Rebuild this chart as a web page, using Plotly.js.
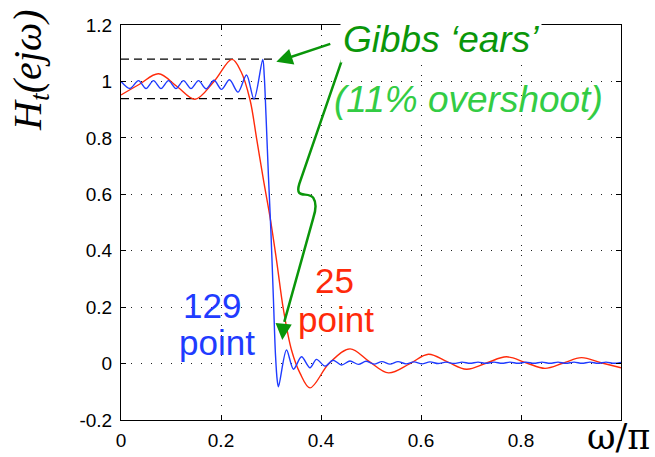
<!DOCTYPE html>
<html>
<head>
<meta charset="utf-8">
<script src="https://cdn.plot.ly/plotly-3.0.1.min.js"></script>
<style>html,body{margin:0;padding:0;background:#fff;}#chart{width:655px;height:457px;}</style>
</head>
<body>
<div id="chart"></div>
<script>
// 25-point truncated response
const redX = [0, 0.037, 0.075, 0.112, 0.148, 0.186, 0.222, 0.24, 0.258, 0.271, 0.285, 0.298, 0.311, 0.325, 0.341, 0.358, 0.378, 0.416, 0.458, 0.496, 0.535, 0.578, 0.615, 0.653, 0.691, 0.731, 0.771, 0.81, 0.848, 0.885, 0.921, 0.96, 1.0];
const redY = [0.952, 0.99, 1.027, 0.982, 0.937, 1.0, 1.078, 1.035, 0.935, 0.8, 0.65, 0.52, 0.367, 0.19, 0.048, -0.034, -0.086, 0.0, 0.052, 0.008, -0.033, 0.0, 0.033, 0.006, -0.02, 0.002, 0.024, 0.003, -0.017, 0.002, 0.021, 0.003, -0.015];

// 129-point truncated response
const blueX = [0, 0.018, 0.035, 0.05, 0.065, 0.08, 0.095, 0.11, 0.125, 0.14, 0.155, 0.17, 0.186, 0.201, 0.217, 0.234, 0.251, 0.266, 0.2835, 0.2865, 0.29, 0.295, 0.3, 0.305, 0.309, 0.3125, 0.315, 0.331, 0.345, 0.361, 0.378, 0.391, 0.408, 0.424, 0.441, 0.458, 0.475, 0.49, 0.506, 0.522, 0.538, 0.554, 0.57, 0.586, 0.602, 0.618, 0.634, 0.65, 0.666, 0.682, 0.698, 0.714, 0.73, 0.746, 0.762, 0.778, 0.794, 0.81, 0.826, 0.842, 0.858, 0.874, 0.89, 0.906, 0.922, 0.938, 0.954, 0.97, 0.986, 1.0];
const blueY = [1.0, 0.975, 1.003, 0.975, 1.003, 0.975, 1.003, 0.975, 1.003, 0.975, 1.003, 0.974, 1.004, 0.972, 1.006, 0.962, 1.023, 0.937, 1.078, 1.02, 0.88, 0.66, 0.46, 0.22, 0.03, -0.06, -0.082, 0.048, -0.02, 0.024, -0.015, 0.015, -0.009, 0.012, -0.005, 0.009, -0.003, 0.008, -0.002, 0.007, -0.002, 0.007, -0.001, 0.006, -0.001, 0.006, 0.0, 0.005, 0.0, 0.005, 0.001, 0.005, 0.001, 0.005, 0.001, 0.005, 0.001, 0.005, 0.001, 0.005, 0.001, 0.005, 0.001, 0.005, 0.001, 0.005, 0.001, 0.005, 0.001, 0.004];

// Overshoot reference levels
const overshootX = [0, 0.304];
const overshootHigh = [1.079, 1.079];
const overshootLow = [0.939, 0.939];

// Tick labels
const xTickVals = [0, 0.2, 0.4, 0.6, 0.8, 1.0];
const xTickText = ['0', '0.2', '0.4', '0.6', '0.8', ''];
const yTickVals = [-0.2, 0, 0.2, 0.4, 0.6, 0.8, 1.0, 1.2];
const yTickText = ['-0.2', '0', '0.2', '0.4', '0.6', '0.8', '1', '1.2'];

const RED = '#ff2a0a';
const BLUE = '#1f3cff';
const GREEN = '#0a960a';
const LIGHTGREEN = '#33cc44';

const traces = [
  {x: overshootX, y: overshootHigh, mode: 'lines', line: {color: '#000', width: 1.3, dash: '8px,5px'}, hoverinfo: 'skip'},
  {x: overshootX, y: overshootLow, mode: 'lines', line: {color: '#000', width: 1.3, dash: '8px,5px'}, hoverinfo: 'skip'},
  {x: redX, y: redY, mode: 'lines', line: {color: RED, width: 1.4, shape: 'spline', smoothing: 1}},
  {x: blueX, y: blueY, mode: 'lines', line: {color: BLUE, width: 1.4, shape: 'spline', smoothing: 0.9}}
];

const axisCommon = {
  showline: true, linecolor: '#000', linewidth: 1, mirror: 'ticks',
  ticks: 'inside', ticklen: 5, tickcolor: '#000', tickwidth: 1,
  showgrid: true, gridcolor: '#222', gridwidth: 1, griddash: '1px,9px',
  zeroline: false,
  tickfont: {family: 'Liberation Sans, Arial, sans-serif', size: 19, color: '#000'}
};

const layout = {
  width: 655, height: 457,
  margin: {l: 121, r: 34, t: 25, b: 37},
  paper_bgcolor: '#fff', plot_bgcolor: '#fff',
  showlegend: false,
  xaxis: Object.assign({}, axisCommon, {range: [0, 1], tickmode: 'array', tickvals: xTickVals, ticktext: xTickText, ticklabelstandoff: 3}),
  yaxis: Object.assign({}, axisCommon, {range: [-0.2, 1.2], tickmode: 'array', tickvals: yTickVals, ticktext: yTickText, ticklabelstandoff: 4}),
  shapes: [
    {type: 'path', xref: 'x', yref: 'y',
     path: 'M 0.442,1.0766 L 0.3566,0.6369 C 0.3466,0.5794 0.3746,0.6121 0.3846,0.5872 C 0.3926,0.566 0.3886,0.5376 0.3846,0.5163 L 0.3266,0.1475',
     line: {color: GREEN, width: 2.5}}
  ],
  annotations: [
    {xref: 'x', yref: 'y', x: 0.3226, y: 0.0837, ax: 2, ay: -24, text: ' ', showarrow: true,
     arrowhead: 2, arrowsize: 1.3, arrowwidth: 2.5, arrowcolor: GREEN, standoff: 0},
    {xref: 'x', yref: 'y', x: 0.3106, y: 1.0695, ax: 57, ay: -19, text: ' ', showarrow: true,
     arrowhead: 2, arrowsize: 1.3, arrowwidth: 2.5, arrowcolor: GREEN, standoff: 0},
    {xref: 'x', yref: 'y', x: 0.639, y: 1.1475, text: 'Gibbs ‘ears’', showarrow: false,
     xanchor: 'center', yanchor: 'middle', bgcolor: '#fff', borderpad: 2,
     font: {family: 'Liberation Sans, Arial, sans-serif', size: 37, color: GREEN, style: 'italic'}},
    {xref: 'x', yref: 'y', x: 0.695, y: 0.935, text: '(11% overshoot)', showarrow: false,
     xanchor: 'center', yanchor: 'middle',
     font: {family: 'Liberation Sans, Arial, sans-serif', size: 37, color: LIGHTGREEN, style: 'italic'}},
    {xref: 'x', yref: 'y', x: 0.181, y: 0.207, text: '129', showarrow: false,
     xanchor: 'center', yanchor: 'middle',
     font: {family: 'Liberation Sans, Arial, sans-serif', size: 35, color: BLUE}},
    {xref: 'x', yref: 'y', x: 0.191, y: 0.074, text: 'point', showarrow: false,
     xanchor: 'center', yanchor: 'middle',
     font: {family: 'Liberation Sans, Arial, sans-serif', size: 35, color: BLUE}},
    {xref: 'x', yref: 'y', x: 0.427, y: 0.296, text: '25', showarrow: false,
     xanchor: 'center', yanchor: 'middle',
     font: {family: 'Liberation Sans, Arial, sans-serif', size: 35, color: RED}},
    {xref: 'x', yref: 'y', x: 0.429, y: 0.155, text: 'point', showarrow: false,
     xanchor: 'center', yanchor: 'middle',
     font: {family: 'Liberation Sans, Arial, sans-serif', size: 35, color: RED}},
    {xref: 'paper', yref: 'paper', x: -0.181, y: 0.885, text: '<i>H<sub>t</sub>(ejω)</i>', showarrow: false,
     textangle: -90, xanchor: 'center', yanchor: 'middle',
     font: {family: 'Liberation Serif, Times New Roman, serif', size: 40, color: '#000'}},
    {xref: 'paper', yref: 'paper', x: 1.06, y: -0.042, text: 'ω/π', showarrow: false,
     xanchor: 'right', yanchor: 'middle', borderpad: 0,
     font: {family: 'DejaVu Serif, Liberation Serif, serif', size: 35, color: '#000'}}
  ]
};

Plotly.newPlot('chart', traces, layout, {displayModeBar: false, staticPlot: true});
</script>
</body>
</html>
